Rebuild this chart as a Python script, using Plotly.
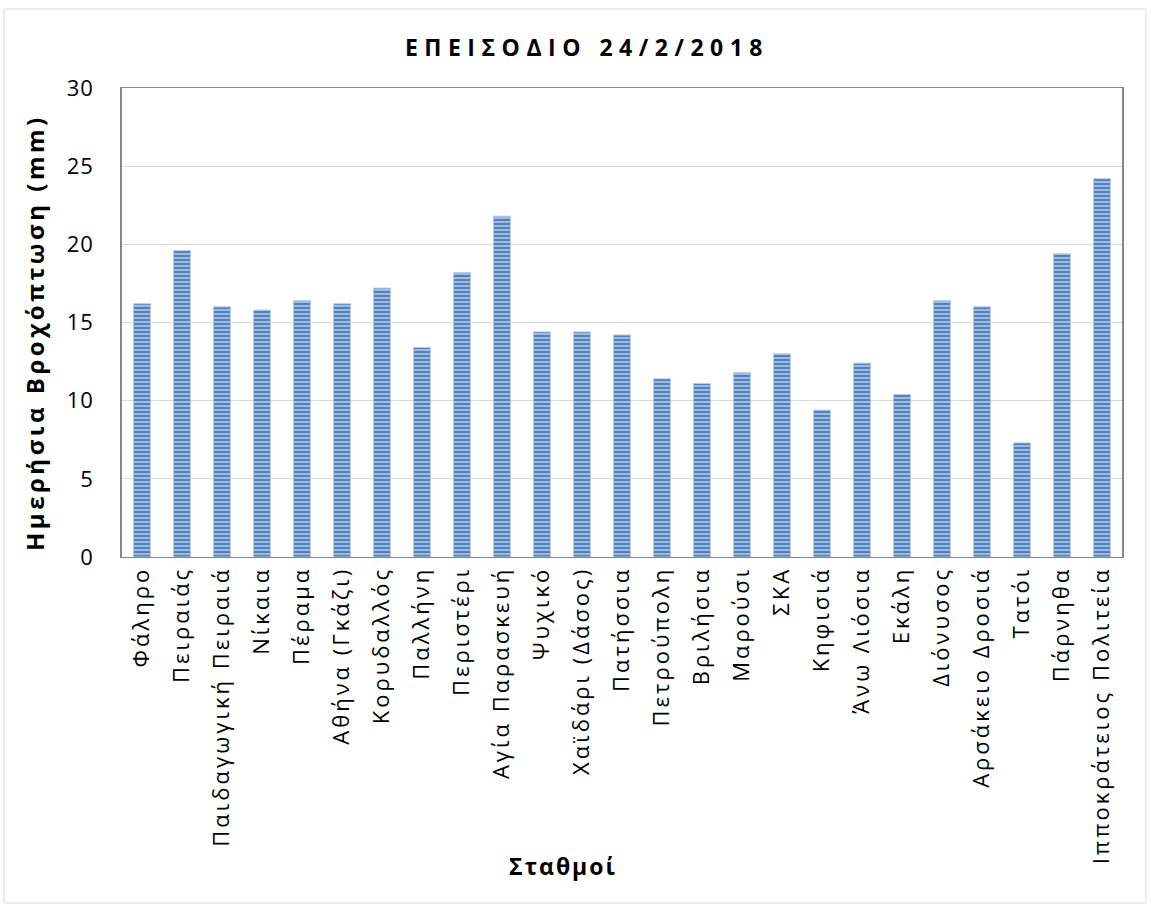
import plotly.graph_objects as go

# stations and daily rainfall (mm) for the 24/2/2018 episode
stations = [
    "Φάληρο", "Πειραιάς", "Παιδαγωγική Πειραιά", "Νίκαια", "Πέραμα",
    "Αθήνα (Γκάζι)", "Κορυδαλλός", "Παλλήνη", "Περιστέρι", "Αγία Παρασκευή",
    "Ψυχικό", "Χαϊδάρι (Δάσος)", "Πατήσσια", "Πετρούπολη", "Βριλήσια",
    "Μαρούσι", "ΣΚΑ", "Κηφισιά", "Άνω Λιόσια", "Εκάλη",
    "Διόνυσος", "Αρσάκειο Δροσιά", "Τατόι", "Πάρνηθα", "Ιπποκράτειος Πολιτεία",
]
rain_mm = [
    16.2, 19.6, 16.0, 15.8, 16.4,
    16.2, 17.2, 13.4, 18.2, 21.8,
    14.4, 14.4, 14.2, 11.4, 11.1,
    11.8, 13.0, 9.4, 12.4, 10.4,
    16.4, 16.0, 7.3, 19.4, 24.2,
]
y_ticks = [0, 5, 10, 15, 20, 25, 30]

W, H = 1151, 908
L, R, T, B = 122, 29, 88, 351
FONT = "Open Sans"
pw = W - L - R
ph = H - T - B

fig = go.Figure()
fig.add_trace(go.Bar(
    x=stations, y=rain_mm,
    marker=dict(
        color="#4F81BD",
        pattern=dict(shape="-", bgcolor="#4F81BD", fgcolor="#A9C2E3",
                     size=4, solidity=0.45, fillmode="replace"),
        line=dict(color="#B9CDE5", width=1),
    ),
    showlegend=False,
))

fig.update_layout(
    width=W, height=H,
    margin=dict(l=L, r=R, t=T, b=B, autoexpand=False),
    paper_bgcolor="white", plot_bgcolor="white",
    bargap=0.57,
    font=dict(family=FONT, color="black"),
    title=dict(text="<b>ΕΠΕΙΣΟΔΙΟ 24/2/2018</b>", x=587 / W, xanchor="center",
               xref="container", y=1 - 48 / H, yanchor="middle", yref="container",
               font=dict(size=23, family=FONT, color="black")),
)
fig.update_xaxes(
    tickangle=-90, tickfont=dict(size=22, family=FONT, color="black"),
    showline=True, linecolor="#878787", linewidth=1, mirror=True,
    ticks="", showgrid=False, automargin=False,
)
fig.update_yaxes(
    range=[0, 30], tickvals=y_ticks,
    tickfont=dict(size=22, family=FONT, color="black"),
    ticklabelstandoff=22,
    showline=True, linecolor="#878787", linewidth=1.5, mirror=True,
    showgrid=True, gridcolor="#D9D9D9", gridwidth=1, ticks="", ticklen=0,
    zeroline=False, automargin=False,
)

# axis titles as annotations, placed where the original has them
fig.add_annotation(text="<b>Ημερήσια Βροχόπτωση (mm)</b>", textangle=-90,
                   x=-(L - 34) / pw, xref="paper",
                   y=((H - B) - 333) / ph, yref="paper",
                   showarrow=False, font=dict(size=24, family=FONT, color="black"),
                   xanchor="center", yanchor="middle")
fig.add_annotation(text="<b>Σταθμοί</b>", x=(563 - L) / pw, xref="paper",
                   y=-(866 - (H - B)) / ph, yref="paper",
                   showarrow=False, font=dict(size=23, family=FONT, color="black"),
                   xanchor="center", yanchor="middle")

# thin chart-area border
fig.add_shape(type="rect", xref="paper", yref="paper",
              x0=(4 - L) / pw, x1=(1146 - L) / pw,
              y0=-(903 - (H - B)) / ph, y1=((H - B) - 9) / ph,
              line=dict(color="#D9D9D9", width=1), layer="below")

# page margin off, and the wide letter spacing of the original text
js = """
document.body.style.margin = '0';
var sp = [['.gtitle', '6.5px'], ['.xtick text', '3px'], ['.ytick text', '1px'],
          ['.annotation[data-index="0"] .annotation-text', '3.5px'],
          ['.annotation[data-index="1"] .annotation-text', '2px']];
sp.forEach(function (p) {
  document.querySelectorAll(p[0]).forEach(function (t) { t.style.letterSpacing = p[1]; });
});
"""
fig.write_html("out.html", post_script=js, config={"displayModeBar": False})
